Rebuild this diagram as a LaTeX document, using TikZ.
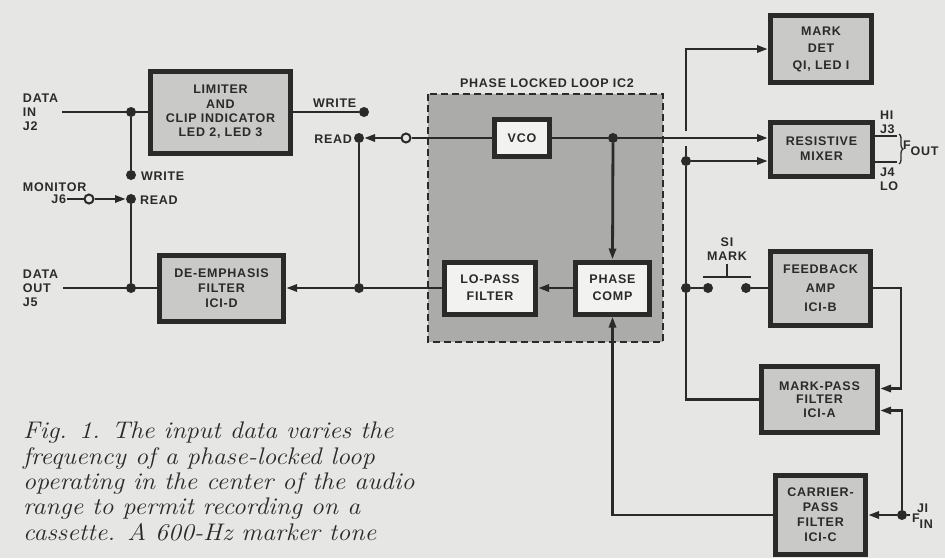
\documentclass[tikz,border=0pt]{standalone}
\usepackage{fontspec}
\newfontfamily\labfont[LetterSpace=6]{Liberation Sans}
\usetikzlibrary{arrows.meta,decorations.pathreplacing}
\definecolor{paper}{HTML}{E6E6E4}
\definecolor{ink}{HTML}{2A2A2A}
\definecolor{boxg}{HTML}{C9C9C7}
\definecolor{pllg}{HTML}{ABABA9}
\definecolor{wbox}{HTML}{F2F2F0}
\tikzset{
  lab/.style={font=\labfont\bfseries\fontsize{12.5}{14}\selectfont, text=ink, inner sep=0pt, outer sep=0pt},
  blk/.style={draw=ink, line width=5pt, fill=boxg, align=center, inner sep=0pt, text=ink,
              font=\labfont\bfseries\fontsize{12.5}{#1}\selectfont},
  blk/.default=14,
  wblk/.style={blk=#1, fill=wbox},
  wblk/.default=17,
  conn/.style={draw=ink, line width=2.8pt},
  arr/.style={conn, -{Triangle[length=11pt,width=7pt]}},
  dot/.style={circle, fill=ink, minimum size=10pt, inner sep=0pt, outer sep=0pt},
  odot/.style={circle, draw=ink, fill=paper, line width=2pt, minimum size=9pt, inner sep=0pt},
  pll/.style={draw=ink, line width=1.6pt, dash pattern=on 7pt off 4pt, fill=pllg},
  capt/.style={font=\fontsize{24}{25.3}\selectfont\itshape, text=ink, align=left, inner sep=0pt},
}
\begin{document}
\begin{tikzpicture}[x=1pt,y=-1pt]
\fill[paper] (0,0) rectangle (945,558);
\useasboundingbox (0,0) rectangle (945,558);

% PLL region
\path[pll] (428,94) rectangle (663,342);
\node[lab, anchor=base] (plltitle) at (547,87) {PHASE LOCKED LOOP IC2};

% blocks (outer size minus border)
\node[blk=14.3, minimum width=140pt, minimum height=82pt] (lim) at (220.5,112) {LIMITER\\AND\\CLIP INDICATOR\\LED 2, LED 3};
\node[blk=15, minimum width=124pt, minimum height=66pt] (deemph) at (221.5,288) {DE-EMPHASIS\\FILTER\\ICI-D};
\node[wblk, minimum width=55pt, minimum height=37pt] (vco) at (522,138) {VCO};
\node[wblk=17, minimum width=91pt, minimum height=52pt] (lopass) at (490,288) {LO-PASS\\FILTER};
\node[wblk=17, minimum width=74pt, minimum height=52pt] (pcomp) at (612.5,288) {PHASE\\COMP};
\node[blk=17, minimum width=101pt, minimum height=67pt] (markdet) at (821,49) {MARK\\DET\\QI, LED I};
\node[blk=15, minimum width=102pt, minimum height=54pt] (mixer) at (821.5,149) {RESISTIVE\\MIXER};
\node[blk=19, minimum width=100pt, minimum height=74pt] (fbamp) at (820.5,288) {FEEDBACK\\AMP\\ICI-B};
\node[blk=13.5, minimum width=116pt, minimum height=66pt] (mpass) at (819.5,399.5) {MARK-PASS\\FILTER\\ICI-A};
\node[blk=15, minimum width=90pt, minimum height=79pt] (cpass) at (820.5,515) {CARRIER-\\PASS\\FILTER\\ICI-C};

% junction dots and open terminals
\node[dot] (d8) at (131,112) {};
\node[dot] (d9) at (131,175) {};
\node[dot] (d10) at (131,199) {};
\node[dot] (d11) at (131,288) {};
\node[odot] (o1) at (89,199) {};
\node[dot] (d7) at (364,112) {};
\node[dot] (d6) at (359,138) {};
\node[odot] (o2) at (406,138) {};
\node[dot] (d5) at (359,288) {};
\node[dot] (d4) at (613,138) {};
\node[dot] (d2) at (686,161) {};
\node[dot] (d3) at (686,288) {};
\node[dot] (s1) at (708,288) {};
\node[dot] (s2) at (746,288) {};
\node[dot] (d12) at (902,515) {};

\coordinate (din) at (62,112);
\coordinate (j6) at (67,199);
\coordinate (dout) at (63,288);
\coordinate (g1) at (686,146);
\coordinate (g2) at (686,131);
\coordinate (j1) at (910,515);
\coordinate (fbr) at (901,288);

% left side connections
\draw[conn] (din) -- (lim.west);
\draw[conn] (d8) -- (d9);
\draw[conn] (j6) -- (o1);
\draw[arr] (o1) -- (d10);
\draw[conn] (d10) -- (d11);
\draw[conn] (dout) -- (deemph.west);
\draw[conn] (lim.east) -- (d7);
\draw[conn] (o2) -- (vco.west);
\draw[arr] (o2) -- (d6);
\draw[conn] (d6) -- (d5);
\draw[conn] (lopass.west) -- (d5);
\draw[arr] (d5) -- (deemph.east);

% PLL internal
\draw[conn] (vco.east) -- (d4);
\draw[arr] (d4) -- (pcomp.north);
\draw[arr] (pcomp.west) -- (lopass.east);
\draw[arr] (d4) -- (mixer.west |- d4);

% right side
\draw[conn] (mpass.west) -| (d3);
\draw[conn] (d3) -- (d2);
\draw[conn] (d2) -- (g1);
\draw[arr] (g2) |- (markdet.west);
\draw[arr] (d2) -- (mixer.west |- d2);
\draw[conn] (d3) -- (s1);
\draw[conn] (s2) -- (fbamp.west);
\draw[line width=2.8pt, draw=ink] (703,277) -- (751,277);
\draw[line width=2.8pt, draw=ink] (727,277) -- (727,264);
\draw[arr] (fbamp.east) -- (fbr) |- ([yshift=11pt]mpass.east);
\draw[conn] (j1) -- (d12);
\draw[arr] (d12) -- (cpass.east);
\draw[arr] (d12) |- ([yshift=-11pt]mpass.east);
\draw[arr] (cpass.west) -| (pcomp.south);
\draw[conn] ([yshift=13pt]mixer.east) -- ++(22,0);
\draw[conn] ([yshift=-13pt]mixer.east) -- ++(22,0);
\draw[draw=ink, line width=1.3pt, decorate, decoration={brace, amplitude=4pt}] (899,134) -- (899,164);

% labels
\node[lab, anchor=north west, align=left] (ldin) at (23,94) {DATA\\IN\\J2};
\node[lab, anchor=base west] (lmon) at (23,191.5) {MONITOR};
\node[lab, anchor=base east] (lj6) at (66,203.5) {J6};
\node[lab, anchor=base west] (lw1) at (141,180) {WRITE};
\node[lab, anchor=base west] (lr1) at (140,204) {READ};
\node[lab, anchor=north west, align=left] (ldout) at (23,270) {DATA\\OUT\\J5};
\node[lab, anchor=base west] (lw2) at (313,107) {WRITE};
\node[lab, anchor=base east] (lr2) at (352,143) {READ};
\node[lab, anchor=north west, align=left] (lhi) at (880,111) {HI\\J3};
\node[lab, anchor=north west, align=left] (llo) at (880,168) {J4\\LO};
\node[lab, anchor=base west] (lfout) at (903,149) {F\raisebox{-6pt}{OUT}};
\node[lab, anchor=north, align=center] (lsw) at (727,238) {SI\\MARK};
\node[lab, anchor=base west] (lj1) at (917,512) {JI};
\node[lab, anchor=base west] (lfin) at (912,522) {F\raisebox{-6pt}{IN}};

% caption
\node[capt, anchor=north west, xscale=1.08, transform shape] (caption) at (23,422) {Fig. 1. The input data varies the\\frequency of a phase-locked loop\\operating in the center of the audio\\range to permit recording on a\\cassette. A 600-Hz marker tone};
\end{tikzpicture}
\end{document}
